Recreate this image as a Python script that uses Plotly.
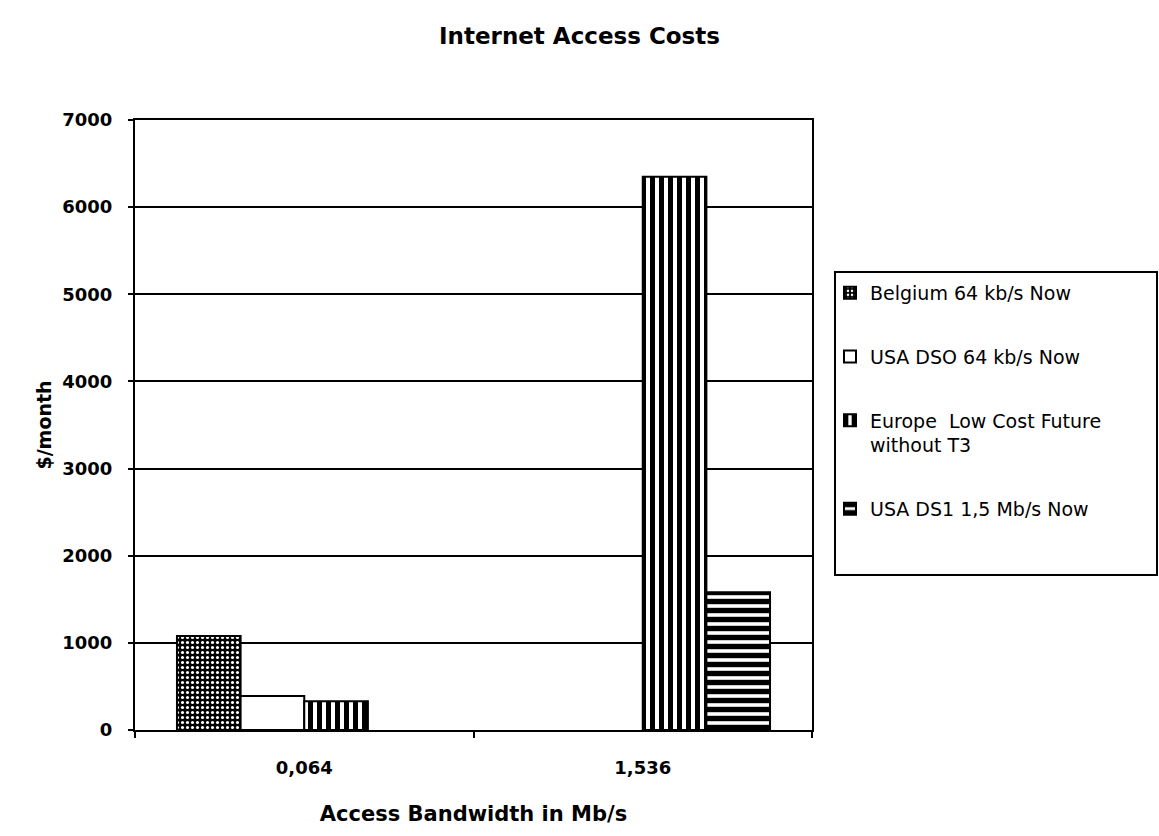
import plotly.graph_objects as go

# Access bandwidth categories (Mb/s) and monthly cost per offer ($/month)
categories = ["0,064", "1,536"]
series_names = [
    "Belgium 64 kb/s Now",
    "USA DSO 64 kb/s Now",
    "Europe  Low Cost Future<br>without T3",
    "USA DS1 1,5 Mb/s Now",
]
belgium = [1080, None]
usa_ds0 = [390, None]
europe = [330, 6350]
usa_ds1 = [None, 1580]
y_ticks = [0, 1000, 2000, 3000, 4000, 5000, 6000, 7000]

values = [belgium, usa_ds0, europe, usa_ds1]
patterns = [
    dict(shape=".", fgcolor="white", bgcolor="black", size=5, solidity=0.3, fgopacity=1),
    dict(shape="", fgcolor="black", bgcolor="white"),
    dict(shape="|", fgcolor="black", bgcolor="white", size=9, solidity=0.55, fgopacity=1),
    dict(shape="-", fgcolor="black", bgcolor="white", size=9, solidity=0.6, fgopacity=1),
]

fig = go.Figure()
for i, (name, vals, pat) in enumerate(zip(series_names, values, patterns)):
    fig.add_trace(go.Bar(
        x=categories, y=vals, name=name, legendgroup=f"g{i}",
        marker=dict(color="white", pattern=pat,
                    line=dict(color="black", width=2)),
    ))

# plot area in pixels: x 135..812, y 120..730
L, R, T, B = 135, 812, 120, 730
W, H = 1159, 836
px = lambda v: (v - L) / (R - L)
py = lambda v: (B - v) / (B - T)

fam = "DejaVu Sans"
fig.update_layout(
    width=W, height=H,
    margin=dict(l=L, r=W - R, t=T, b=H - B, autoexpand=False),
    paper_bgcolor="white", plot_bgcolor="white",
    barmode="group", bargap=0.248, bargroupgap=0,
    title=dict(text="Internet Access Costs", x=0.5, xanchor="center",
               y=1 - 36 / H, yanchor="middle",
               font=dict(family=fam, size=23, color="black", weight="bold")),
    font=dict(family=fam, color="black"),
    showlegend=True,
    legend=dict(
        x=px(830), xanchor="left", y=py(274), yanchor="top",
        font=dict(family=fam, size=19, color="black"),
        bgcolor="rgba(0,0,0,0)", borderwidth=0,
        tracegroupgap=36, itemwidth=30, valign="top",
        traceorder="grouped",
    ),
    xaxis=dict(
        type="category", showline=True, linecolor="black", linewidth=2,
        mirror=True, ticks="outside", ticklen=6, tickwidth=2,
        tickcolor="black", tickson="boundaries", showgrid=False,
        tickfont=dict(family=fam, size=18, color="black", weight="bold"),
        ticklabelstandoff=20,
        title=dict(text="Access Bandwidth in Mb/s", standoff=30,
                   font=dict(family=fam, size=21, color="black", weight="bold")),
    ),
    yaxis=dict(
        range=[0, 7000], tickvals=y_ticks,
        showline=True, linecolor="black", linewidth=2, mirror=True,
        ticks="outside", ticklen=5, tickwidth=2, tickcolor="black",
        showgrid=True, gridcolor="black", gridwidth=2, zeroline=False,
        tickfont=dict(family=fam, size=18, color="black", weight="bold"),
        ticklabelstandoff=12,
        title=dict(text="$/month", standoff=6,
                   font=dict(family=fam, size=19, color="black", weight="bold")),
    ),
    shapes=[dict(type="rect", xref="paper", yref="paper",
                 x0=px(835), x1=px(1157), y0=py(575), y1=py(272),
                 line=dict(color="black", width=2), fillcolor="rgba(0,0,0,0)")],
)

fig.write_html("out.html")
